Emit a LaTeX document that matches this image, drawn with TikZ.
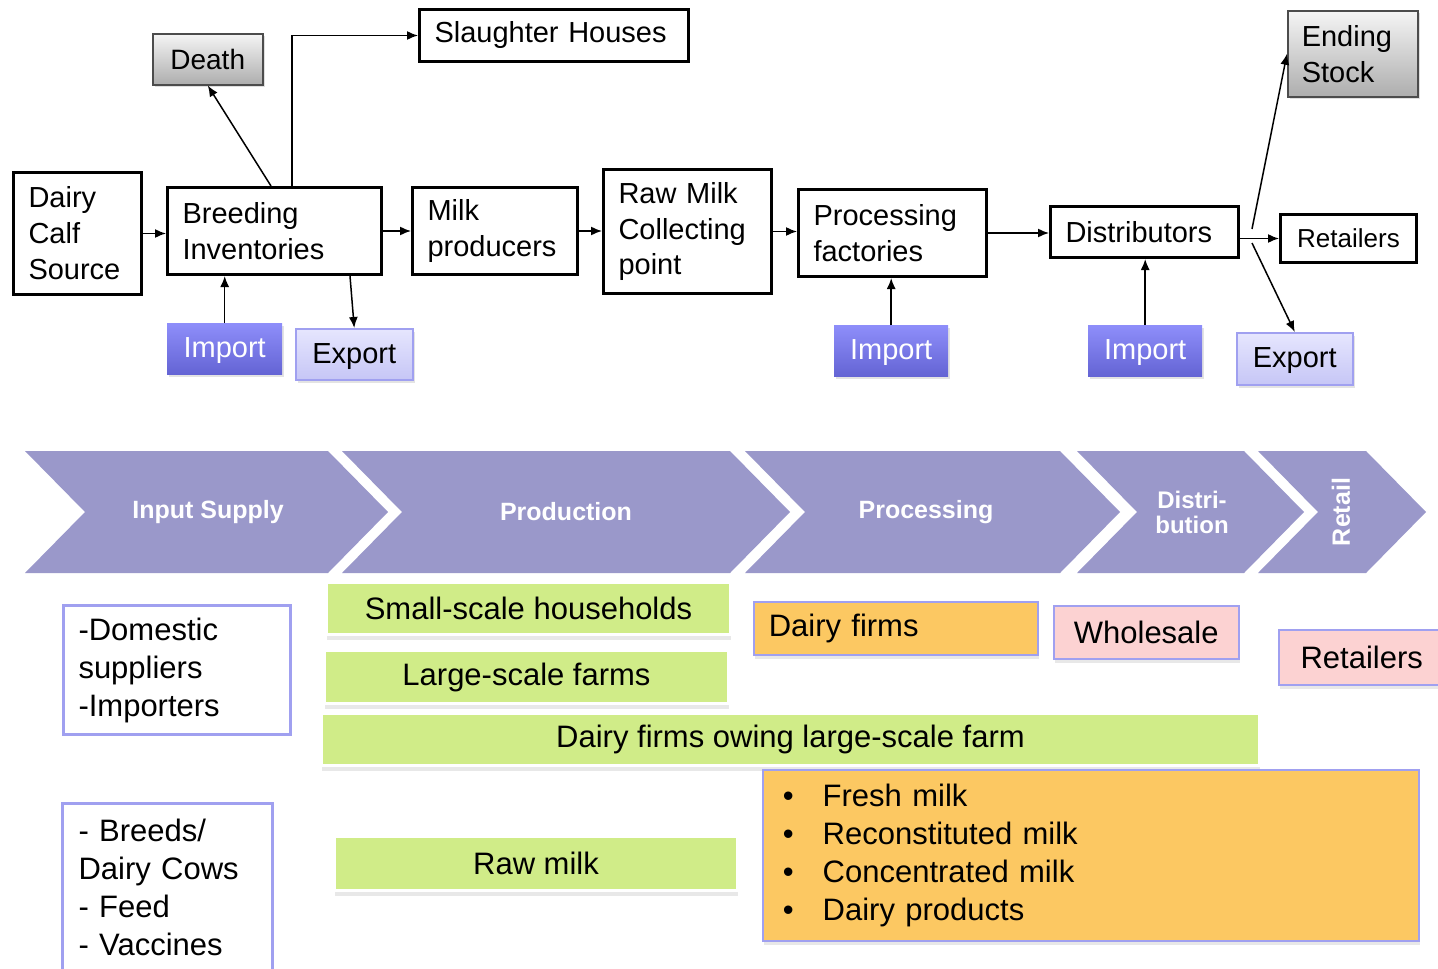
\documentclass[tikz,border=0pt]{standalone}
\usepackage{fontspec}
\setmainfont{Liberation Sans}
\usetikzlibrary{arrows.meta,calc,shadows}
\definecolor{chev}{RGB}{154,152,202}
\definecolor{impT}{RGB}{142,142,250}
\definecolor{impB}{RGB}{100,100,212}
\definecolor{expT}{RGB}{230,230,254}
\definecolor{expB}{RGB}{198,198,246}
\definecolor{pborder}{RGB}{160,160,240}
\definecolor{grn}{RGB}{208,236,136}
\definecolor{org}{RGB}{252,200,98}
\definecolor{pnk}{RGB}{252,210,210}
\newcommand\topfont{\fontsize{29}{36}\selectfont}
\newcommand\botfont{\fontsize{31}{38}\selectfont}
\newcommand\chevfont{\fontsize{25}{26}\selectfont\bfseries}
\tikzset{
  fb/.style={draw=black, line width=3pt, fill=white, inner xsep=15pt, inner ysep=0pt,
    anchor=north west, align=left, font=\topfont},
  gb/.style={draw=black!70, line width=1.5pt, top color=black!4, bottom color=black!32,
    inner xsep=14pt, inner ysep=0pt, anchor=north west, align=left, font=\topfont,
    drop shadow={shadow xshift=2pt, shadow yshift=-2pt, fill=black!25}},
  imp/.style={draw=none, top color=impT, bottom color=impB, text=white, inner sep=0pt,
    anchor=north west, font=\topfont, text height=21pt, text depth=3pt,
    drop shadow={shadow xshift=2pt, shadow yshift=-3pt, fill=black!22}},
  expo/.style={draw=pborder, line width=1.5pt, top color=expT, bottom color=expB, inner sep=0pt,
    anchor=north west, font=\topfont, text height=21pt, text depth=3pt,
    drop shadow={shadow xshift=2pt, shadow yshift=-3pt, fill=black!22}},
  arr/.style={line width=1.5pt, -{Latex[length=11pt,width=9pt]}},
  chevlabel/.style={text=white, font=\chevfont, align=center, inner sep=0pt},
  pb/.style={draw=pborder, line width=3pt, fill=white, inner xsep=15pt, inner ysep=0pt,
    anchor=north west, align=left, font=\botfont},
  gr/.style={draw=white, line width=3pt, fill=grn, inner sep=0pt, anchor=north west,
    font=\botfont, drop shadow={shadow xshift=0pt, shadow yshift=-5pt, fill=black!18}},
  ob/.style={draw=pborder, line width=1.5pt, fill=org, inner xsep=15pt, inner ysep=0pt,
    anchor=north west, align=left, font=\botfont,
    drop shadow={shadow xshift=1pt, shadow yshift=-4pt, fill=black!18}},
  pk/.style={draw=pborder, line width=1.5pt, fill=pnk, inner sep=0pt,
    anchor=north west, font=\botfont,
    drop shadow={shadow xshift=1pt, shadow yshift=-4pt, fill=black!18}}
}
\begin{document}
\begin{tikzpicture}[x=1pt,y=-1pt]
\useasboundingbox (0,0) rectangle (1438,969);

% ---------- top flow ----------
\node[fb, minimum width=128pt, minimum height=122pt, text width=98pt] (calf) at (12,171) {Dairy\\Calf\\Source};
\node[fb, minimum width=214pt, minimum height=87pt, text width=184pt] (breed) at (166,186) {Breeding\\Inventories};
\node[fb, minimum width=165pt, minimum height=87pt, text width=135pt] (milk) at (411,186) {Milk\\producers};
\node[fb, minimum width=168pt, minimum height=124pt, text width=138pt] (raw) at (602,168) {Raw Milk\\Collecting\\point};
\node[fb, minimum width=188pt, minimum height=87pt, text width=158pt] (proc) at (797,188) {Processing\\factories};
\node[fb, minimum width=188pt, minimum height=51pt, text width=158pt] (dist) at (1049,205) {Distributors};
\node[fb, minimum width=136pt, minimum height=48pt, align=center, inner xsep=0pt, font=\fontsize{26}{30}\selectfont] (ret) at (1279,213) {Retailers};
\node[fb, minimum width=269pt, minimum height=52pt, text width=239pt] (slaughter) at (418,8) {Slaughter Houses};
\node[gb, minimum width=110pt, minimum height=51pt, align=center, inner xsep=0pt, font=\fontsize{28}{34}\selectfont] (death) at (152,33) {Death};
\node[gb, minimum width=130pt, minimum height=86pt, text width=102pt] (end) at (1287,10) {Ending\\Stock};

\node[imp, minimum width=115pt, minimum height=51pt] (imp1) at (167,323) {Import};
\node[expo, minimum width=117pt, minimum height=51pt] (exp1) at (295,328) {Export};
\node[imp, minimum width=114pt, minimum height=51pt] (imp2) at (834,325) {Import};
\node[imp, minimum width=114pt, minimum height=51pt] (imp3) at (1088,325) {Import};
\node[expo, minimum width=116pt, minimum height=52pt] (exp2) at (1236,332) {Export};

\draw[arr] (calf.east) -- (calf.east -| breed.west);
\draw[arr] (breed.east) -- (breed.east -| milk.west);
\draw[arr] (milk.east) -- (milk.east -| raw.west);
\draw[arr] (raw.east) -- (raw.east -| proc.west);
\draw[arr] (proc.east) -- (proc.east -| dist.west);
\draw[arr] (dist.east |- ret.west) -- (ret.west);
\coordinate (ds1) at (1252,229);
\coordinate (ds2) at (1252,243);
\draw[arr] (ds1) -- (end.west);
\draw[arr] (ds2) -- (exp2.north);
\draw[arr] ($(breed.north west)+(105,0)$) -- (death.south);
\draw[arr] ($(breed.north west)+(126,0)$) |- (slaughter.west);
\draw[arr] (imp1.north) -- (imp1.north |- breed.south);
\draw[arr] ($(breed.south west)+(184,0)$) -- (exp1.north);
\draw[arr] (imp2.north) -- (imp2.north |- proc.south);
\draw[arr] (imp3.north) -- (imp3.north |- dist.south);

% ---------- chevrons ----------
\fill[chev] (25,451) -- (328,451) -- (388,512) -- (328,573) -- (25,573) -- (85,512) -- cycle;
\fill[chev] (342,451) -- (730,451) -- (790,512) -- (730,573) -- (342,573) -- (402,512) -- cycle;
\fill[chev] (745,451) -- (1060,451) -- (1120,512) -- (1060,573) -- (745,573) -- (805,512) -- cycle;
\fill[chev] (1077,451) -- (1244,451) -- (1304,512) -- (1244,573) -- (1077,573) -- (1137,512) -- cycle;
\fill[chev] (1258,451) -- (1366,451) -- (1426,512) -- (1366,573) -- (1258,573) -- (1318,512) -- cycle;
\node[chevlabel] (c1) at (208,512) {Input Supply};
\node[chevlabel] (c2) at (566,512) {Production};
\node[chevlabel] (c3) at (926,512) {Processing};
\node[chevlabel, font=\fontsize{24}{25}\selectfont\bfseries] (c4) at (1192,512) {Distri-\\bution};
\node[chevlabel, rotate=90] (c5) at (1341,512) {Retail};

% ---------- bottom ----------
\node[pb, minimum width=227pt, minimum height=129pt, text width=197pt] (dom) at (62,604) {-Domestic\\suppliers\\-Importers};
\node[pb, draw=none, minimum width=207pt, minimum height=165pt, text width=177pt] (breeds) at (62,803) {- Breeds/\\Dairy Cows\\- Feed\\- Vaccines};
\draw[pborder, line width=3pt] ($(breeds.south west)+(0,20)$) -- (breeds.north west)
  -- (breeds.north east) -- ($(breeds.south east)+(0,20)$);

\node[gr, minimum width=404pt, minimum height=52pt] (small) at (325,581) {Small-scale households};
\node[gr, minimum width=404pt, minimum height=53pt] (large) at (323,649) {Large-scale farms};
\node[gr, minimum width=938pt, minimum height=52pt] (owing) at (320,712) {Dairy firms owing large-scale farm};
\node[gr, minimum width=403pt, minimum height=54pt] (rawmilk) at (333,835) {Raw milk};

\node[ob, minimum width=284pt, minimum height=53pt, text width=254pt] (firms) at (753,601) {Dairy firms};
\node[pk, minimum width=185pt, minimum height=53pt] (whole) at (1053,605) {Wholesale};
\node[pk, minimum width=166pt, minimum height=55pt] (ret2) at (1278,629) {Retailers};
\node[ob, minimum width=656pt, minimum height=171pt, text width=626pt] (prod) at (762,769)
  {\makebox[45pt][l]{\,•}Fresh milk\\\makebox[45pt][l]{\,•}Reconstituted milk\\\makebox[45pt][l]{\,•}Concentrated milk\\\makebox[45pt][l]{\,•}Dairy products};
\end{tikzpicture}
\end{document}
